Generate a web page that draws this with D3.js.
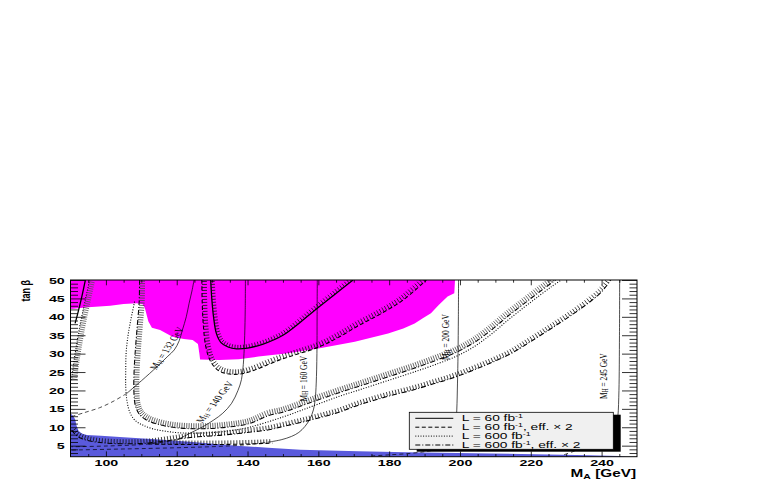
<!DOCTYPE html>
<html><head><meta charset="utf-8">
<script src="https://cdn.jsdelivr.net/npm/d3@7"></script>
<style>body{margin:0;background:#fff} svg{display:block}</style>
</head><body>
<svg id="c" width="763" height="480"></svg>
<script>
// ---------- data (M_A in GeV, tan beta) ----------
const maRange = [90, 250];
const tbRange = [2, 50];
const xMajorTicks = [100, 120, 140, 160, 180, 200, 220, 240];
const yMajorTicks = [5, 10, 15, 20, 25, 30, 35, 40, 45, 50];
const xMinorTicks = d3.range(95, 250, 5).filter(v => v % 20 !== 0);
const yMinorTicks = d3.range(3, 50, 1).filter(v => v % 5 !== 0);

const magentaEdge = [[90,42.1],[95,42.6],[101.2,43.0],[105,43.5],[108.7,43.7],[110.4,43.4],[111,42.4],[112,38.7],[113,37.0],[115.3,36.4],[118.8,34.6],[122,34.0],[124.5,33.7],[126,32.6],[126.4,30],[126.6,28.4],[132,28.3],[137.5,28.5],[143.1,29.2],[151.5,30.1],[160.8,31.5],[170.3,33.2],[179.7,35.5],[184,36.8],[187.2,38.2],[189.5,39.6],[191.8,41.0],[194,43.2],[196.5,45.5],[198.4,46.4],[198.6,50]];
const blueEdge = [[90,13.8],[90.8,13.0],[91.3,12.2],[91.7,10.5],[92.3,9.0],[93.2,8.3],[94.6,7.9],[98.6,7.7],[105,7.3],[115,6.7],[124.5,6.0],[137,5.0],[145.8,4.4],[155,3.9],[171.3,3.45],[184.8,3.2],[208.5,2.9],[225,2.6],[236.5,2.4],[245,2.2],[247,2.0]];

const solidLeft = [[91.3,38.2],[92.2,41.5],[93.2,45.5],[94.2,50]];
const hatchLeft = [[90.3,22.8],[90.7,26],[91.3,30],[92,34],[92.7,37.8],[93.6,42],[94.5,46],[95.4,50]];
const solidU = [[129.6,50],[129.9,45],[130.4,40],[131.2,35.5],[132.5,33],[134.5,31.8],[136.9,31.3],[140,31.5],[144.4,32.6],[150,35],[155,38.6],[158.5,41.4],[164,45.6],[169.8,50]];
const dashedU = [[127.1,50],[127.2,44],[127.5,38],[128.2,32],[129.5,28],[131.5,25.6],[134,24.6],[137.5,24.4],[141,25.2],[149.1,28.3],[160.4,31.9],[166,34.6],[171.7,37.8],[177.6,40.8],[184,44.6],[190.5,50]];
const dottedU = [[108.1,44.1],[107,39],[106.2,34.6],[105.7,30],[105.6,25.6],[105.6,21],[105.9,17.5],[106.7,14.2],[108.2,11.9],[110.4,10.6],[113.5,9.5],[117,8.9],[120.5,8.5],[124.5,8.4],[129,8.5],[133.9,8.9],[140.5,10.0],[150,12.8],[158,15.6],[165.6,18.3],[173,20.6],[180,22.8],[187,25],[194.1,27.4],[199,29.3],[204,31.9],[209,35.4],[213.3,38.9],[218,42.5],[222.5,45.8],[226,48.3],[228.6,50]];
const dashDotU = [[109.5,50],[109.4,44],[108.9,38],[108.4,32],[108,26],[107.9,20],[108.3,16],[109.4,13.6],[111.2,12.1],[114,11],[118,10.1],[122,9.7],[127,9.6],[133,9.9],[140.5,11.0],[146,13.2],[150,14.1],[158,16.8],[165.6,19.3],[173,21.6],[180,23.8],[187,26],[194.1,28.5],[199,30.4],[204,33],[209,36.5],[213.3,40],[218,43.5],[222.5,46.8],[227,50]];
const lowerBand = [[90.3,9.3],[91.5,7.9],[93,7],[94.5,6.5],[97,6],[100,5.7],[106,5.5],[112,5.7],[117,6.3],[122,7.0],[126,7.4],[132,7.8],[137.4,8.3],[141,8.7],[146,9.3],[150,10.2],[155,11.3],[159.5,12.4],[165.6,14],[171.3,16],[176,17.4],[180,18.5],[187,20.2],[192.5,21.8],[196,22.8],[200,24.1],[205,26],[210,28],[214.6,30.1],[220,33.3],[227,37.6],[232,40.8],[237,44.3],[240,46.8],[242.6,50]];
const blueRow = [[112,5.45],[120,5.35],[130,5.3],[140,5.45],[147,5.7]];

const mh132 = [[105.9,19.2],[110,22.6],[114.5,26.5],[117.5,29.3],[119.3,31],[120.7,33.5],[121.6,36.4],[122.7,40],[123.5,43.7],[124.3,47],[124.9,50]];
const mh132Low = [[90.3,12.9],[94,14],[98.2,15.3],[102,17],[105.9,19.2]];
const mh140 = [[139.4,50],[139.35,42],[139.2,35],[139,30],[138.8,27],[138.3,23],[137.3,20],[135.5,16.5],[133,13.8],[130.5,12],[127.5,10.2],[124,8.5],[120.2,6.6]];
const mh140Low = [[120.2,6.6],[115,5.8],[110,5.3],[100,4.9],[90.3,4.7]];
const mh160 = [[159.7,50],[159.65,40],[159.6,30],[159.4,22],[159.1,17.5],[158.6,14.7],[157.6,12.2],[156.2,10.2],[154.5,8.6],[152.4,7.5],[149.5,6.6],[146.8,6.1]];
const mh160Low = [[146.8,6.1],[140.4,5.3],[132,4.8],[122.6,4.5],[110,4.2],[100,4.0],[90.3,3.8]];
const mh200 = [[199.6,50],[199.55,40],[199.45,30],[199.3,22],[199.1,14.7],[198.8,10],[198.3,6.5],[197.5,5.3]];
const mh200Low = [[197.5,5.3],[195,4.3],[191,3.5],[185.9,2.9],[180,2.5],[175,2.2]];
const mh245 = [[245.1,50],[245.05,35],[244.9,20],[244.6,13],[244,9],[242.5,6.5],[240,5.6]];
const mh245Low = [[240,5.6],[236,4.6],[232,3.4],[229,2.4]];

const mhLabelMass = ["132", "140", "160", "200", "245"];
const mhLabelAt = [[117.0,31.5],[130.5,16.9],[155.4,23.2],[195.7,34.5],[240.1,23.9]];
const mhLabelAngle = [-56, -52, -90, -90, -90];

const legendText = ["L = 60 fb", "L = 60 fb", "L = 600 fb", "L = 600 fb"];
const legendSuffix = ["", ", eff. \u00d7 2", "", ", eff. \u00d7 2"];

// ---------- drawing ----------
const SX = 1.5;
const svg = d3.select("#c");
const x = d3.scaleLinear().domain(maRange).range([70.5, 637]);
const y = d3.scaleLinear().domain(tbRange).range([456.7, 280]);
const X0 = x(maRange[0]), X1 = x(maRange[1]), Y0 = y(tbRange[0]), Y1 = y(tbRange[1]);

svg.append("defs").append("clipPath").attr("id", "clip")
  .append("rect").attr("x", X0).attr("y", Y1).attr("width", X1 - X0).attr("height", Y0 - Y1);
const plot = svg.append("g").attr("clip-path", "url(#clip)");

const poly = d3.line().x(d => x(d[0])).y(d => y(d[1]));
const smooth = d3.line().x(d => x(d[0])).y(d => y(d[1])).curve(d3.curveCatmullRom.alpha(0.5));

plot.append("path").attr("d", poly([[90,50], ...magentaEdge]) + "Z").attr("fill", "#ff00ff");
plot.append("path").attr("d", poly([[90,2], ...blueEdge]) + "Z").attr("fill", "#5a5adc");

function hatchPath(node, side, len, step) {
  const L = node.getTotalLength();
  let d = "";
  for (let s = step / 2; s < L; s += step) {
    const p = node.getPointAtLength(s);
    const a = node.getPointAtLength(Math.max(0, s - 1));
    const b = node.getPointAtLength(Math.min(L, s + 1));
    let tx = b.x - a.x, ty = b.y - a.y;
    const n = Math.hypot(tx, ty) || 1; tx /= n; ty /= n;
    const nx = side * (-ty), ny = side * tx;
    d += `M${p.x.toFixed(2)},${p.y.toFixed(2)}L${(p.x + nx * len).toFixed(2)},${(p.y + ny * len).toFixed(2)}`;
  }
  return d;
}

const DASH = { solid: null, dashed: "4,2.5", dotted: "1,1.6", dashdot: "5,2,1,2" };
const contours = [
  { pts: hatchLeft, style: "dotted", side: 1, len: 5.5, step: 2.2, hc: "#555" },
  { pts: solidLeft, style: "solid" },
  { pts: dottedU, style: "dotted" },
  { pts: dashDotU, style: "dashdot", side: -1, len: 5.5, step: 2.4, hc: "#444" },
  { pts: lowerBand, style: "dashdot", side: -1, len: 4.5, step: 3, hc: "#111" },
  { pts: blueRow, style: "dashed", side: -1, len: 4, step: 3, hc: "#111" },
  { pts: dashedU, style: "dashed", side: -1, len: 5, step: 3, hc: "#111" },
  { pts: solidU, style: "solid", side: -1, len: 4, step: 3, hc: "#111" }
];
contours.forEach(c => {
  const p = plot.append("path").attr("d", smooth(c.pts)).attr("fill", "none")
    .attr("stroke", "#000").attr("stroke-width", c.style === "solid" ? 1.3 : 1.1)
    .attr("stroke-dasharray", DASH[c.style]);
  if (c.side) {
    plot.append("path").attr("d", hatchPath(p.node(), c.side, c.len, c.step))
      .attr("fill", "none").attr("stroke", c.hc).attr("stroke-width", 0.8);
  }
});

[mh132, mh140, mh160, mh200, mh245].forEach(pts => {
  plot.append("path").attr("d", smooth(pts)).attr("fill", "none").attr("stroke", "#000").attr("stroke-width", 0.7);
});
[mh132Low, mh140Low, mh160Low, mh200Low, mh245Low].forEach(pts => {
  plot.append("path").attr("d", smooth(pts)).attr("fill", "none").attr("stroke", "#000")
    .attr("stroke-width", 0.7).attr("stroke-dasharray", "4,3");
});

// M_H labels
function phiFor(theta) {
  if (Math.abs(theta) >= 89.9) return theta;
  return Math.atan(SX * Math.tan(theta * Math.PI / 180)) * 180 / Math.PI;
}
mhLabelMass.forEach((m, i) => {
  const [ma, tb] = mhLabelAt[i];
  const t = svg.append("text")
    .attr("transform", `translate(${x(ma)},${y(tb)}) scale(${SX},1) rotate(${phiFor(mhLabelAngle[i])})`)
    .attr("text-anchor", "middle").attr("dominant-baseline", "central")
    .attr("font-family", "Liberation Serif, Times New Roman, serif").attr("font-size", 7.5).attr("fill", "#000");
  t.append("tspan").text("M");
  t.append("tspan").attr("font-size", 5.3).attr("dy", 1.7).text("H");
  t.append("tspan").attr("dy", -1.7).text(` = ${m} GeV`);
});

// axes
const axG = svg.append("g");
function styleAxis(g) {
  g.select(".domain").remove();
  g.selectAll("line").attr("stroke", "#000").attr("stroke-width", 0.8);
  g.selectAll("text").attr("font-family", "Liberation Sans, Arial, sans-serif")
    .attr("font-weight", "bold").attr("font-size", 9.5).attr("fill", "#000")
    .attr("transform", `scale(${SX},1)`);
}
axG.append("g").attr("transform", `translate(0,${Y0})`)
  .call(d3.axisBottom(x).tickValues(xMajorTicks).tickSize(-5.3).tickPadding(2.2).tickFormat(d3.format("d"))).call(styleAxis);
axG.append("g").attr("transform", `translate(0,${Y0})`)
  .call(d3.axisBottom(x).tickValues(xMinorTicks).tickSize(-2.7).tickFormat("")).call(styleAxis);
axG.append("g").attr("transform", `translate(0,${Y1})`)
  .call(d3.axisTop(x).tickValues(xMajorTicks).tickSize(-5.3).tickFormat("")).call(styleAxis);
axG.append("g").attr("transform", `translate(0,${Y1})`)
  .call(d3.axisTop(x).tickValues(xMinorTicks).tickSize(-2.7).tickFormat("")).call(styleAxis);
axG.append("g").attr("transform", `translate(${X0},0)`)
  .call(d3.axisLeft(y).tickValues(yMajorTicks).tickSize(-15).tickPadding(3.8).tickFormat(d3.format("d"))).call(styleAxis);
axG.append("g").attr("transform", `translate(${X0},0)`)
  .call(d3.axisLeft(y).tickValues(yMinorTicks).tickSize(-7.5).tickFormat("")).call(styleAxis);
axG.append("g").attr("transform", `translate(${X1},0)`)
  .call(d3.axisRight(y).tickValues(yMajorTicks).tickSize(-15).tickFormat("")).call(styleAxis);
axG.append("g").attr("transform", `translate(${X1},0)`)
  .call(d3.axisRight(y).tickValues(yMinorTicks).tickSize(-7.5).tickFormat("")).call(styleAxis);
axG.selectAll(".tick text").filter(function(){ return this.textContent === ""; }).remove();

svg.append("rect").attr("x", X0).attr("y", Y1).attr("width", X1 - X0).attr("height", Y0 - Y1)
  .attr("fill", "none").attr("stroke", "#000").attr("stroke-width", 1);

// axis titles
const xt = svg.append("text").attr("transform", `translate(636,477) scale(${SX},1)`)
  .attr("text-anchor", "end").attr("font-family", "Liberation Sans, Arial, sans-serif")
  .attr("font-weight", "bold").attr("font-size", 10.2).attr("fill", "#000");
xt.append("tspan").text("M");
xt.append("tspan").attr("font-size", 7).attr("dy", 2).text("A");
xt.append("tspan").attr("dy", -2).text(" [GeV]");

svg.append("text").attr("transform", `translate(30,280) scale(${SX},1) rotate(-90)`)
  .attr("text-anchor", "end").attr("font-family", "Liberation Sans, Arial, sans-serif")
  .attr("font-weight", "bold").attr("font-size", 9).attr("fill", "#000").text("tan \u03b2");

// legend
const lg = svg.append("g");
const LX = 409.3, LY = 412.3, LW = 204, LH = 37;
const LSX = 1.58;
lg.append("rect").attr("x", LX + 7.4).attr("y", LY + 2.4).attr("width", LW).attr("height", LH).attr("fill", "#000");
lg.append("rect").attr("x", LX).attr("y", LY).attr("width", LW).attr("height", LH)
  .attr("fill", "#f0f0f0").attr("stroke", "#000").attr("stroke-width", 0.8);
const legStyles = ["solid", "dashed", "dotted", "dashdot"];
legendText.forEach((t, i) => {
  const cy = LY + 6 + i * 8.9;
  lg.append("line").attr("x1", LX + 6).attr("x2", LX + 44).attr("y1", cy).attr("y2", cy)
    .attr("stroke", "#000").attr("stroke-width", 1).attr("stroke-dasharray", DASH[legStyles[i]]);
  const tx = lg.append("text").attr("transform", `translate(${LX + 52.4},${cy + 3.1}) scale(${LSX},1)`)
    .attr("font-family", "Liberation Sans, Arial, sans-serif").attr("font-size", 8.7).attr("fill", "#000");
  tx.append("tspan").text(t);
  tx.append("tspan").attr("font-size", 5.6).attr("dy", -3.1).text("-1");
  tx.append("tspan").attr("dy", 3.1).text(legendSuffix[i]);
});
</script>
</body></html>
